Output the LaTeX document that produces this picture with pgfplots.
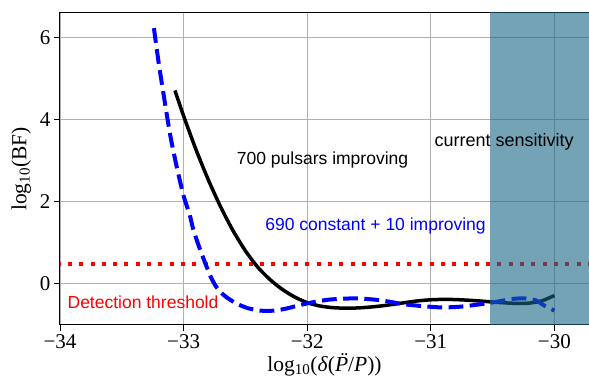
\documentclass[border=0pt]{standalone}
\usepackage{fontspec}
\setmainfont{Liberation Serif}
\newfontfamily\sansf{Liberation Sans}
\usepackage{pgfplots}
\pgfplotsset{compat=1.18}
\definecolor{shade}{RGB}{23,102,133}
\definecolor{gridc}{RGB}{176,176,176}
\begin{document}
\begin{tikzpicture}
\begin{axis}[
  scale only axis, width=529pt, height=312pt,
  xmin=-34, xmax=-29.72, ymin=-1.02, ymax=6.59,
  xtick={-34,-33,-32,-31,-30}, xticklabels={−34,−33,−32,−31,−30},
  ytick={0,2,4,6}, yticklabels={0,2,4,6},
  grid=major, major grid style={gridc, line width=0.8pt},
  tick align=outside, tick pos=left, major tick length=6pt,
  every tick/.style={black, line width=0.8pt},
  axis line style={black, line width=1pt},
  tick label style={font=\fontsize{21}{24}\selectfont},
  label style={font=\fontsize{21.5}{25}\selectfont},
  xlabel={log\textsubscript{10}(\textit{δ}({\itshape\accent"00A8 P}/\textit{P}))},
  ylabel={log\textsubscript{10}(BF)},
  xlabel style={yshift=2pt},
  ylabel style={yshift=2pt},
  clip=true,
]
\addplot[red, line width=4pt, dash pattern=on 4pt off 7.3pt, dash phase=-8pt] coordinates {(-34,0.477) (-29.72,0.477)};
\addplot[black, line width=3.5pt, smooth, tension=0.4] coordinates {
(-33.07,4.70) (-33.0,4.08) (-32.9,3.26) (-32.8,2.52) (-32.7,1.86) (-32.6,1.28) (-32.5,0.79) (-32.4,0.39) (-32.3,0.085) (-32.2,-0.155) (-32.1,-0.34) (-32.0,-0.475) (-31.9,-0.555) (-31.8,-0.595) (-31.7,-0.61) (-31.6,-0.605) (-31.5,-0.585) (-31.4,-0.555) (-31.3,-0.515) (-31.2,-0.47) (-31.1,-0.43) (-31.0,-0.405) (-30.9,-0.395) (-30.8,-0.40) (-30.7,-0.415) (-30.6,-0.435) (-30.5,-0.46) (-30.4,-0.48) (-30.3,-0.495) (-30.2,-0.485) (-30.1,-0.43) (-30.0,-0.30)};
\addplot[blue, line width=4pt, dash pattern=on 14.8pt off 6.4pt, smooth, tension=0.4] coordinates {
(-33.24,6.22) (-33.2,5.34) (-33.13,4.0) (-33.1,3.48) (-33.05,2.76) (-33.0,2.13) (-32.95,1.66) (-32.92,1.29) (-32.87,0.85) (-32.82,0.45) (-32.78,0.15) (-32.74,-0.07) (-32.7,-0.22) (-32.65,-0.35) (-32.57,-0.50) (-32.48,-0.61) (-32.38,-0.67) (-32.27,-0.67) (-32.17,-0.62) (-32.08,-0.55) (-31.98,-0.48) (-31.82,-0.40) (-31.6,-0.37) (-31.4,-0.42) (-31.2,-0.52) (-30.93,-0.59) (-30.75,-0.57) (-30.52,-0.48) (-30.35,-0.39) (-30.25,-0.37) (-30.15,-0.42) (-30.08,-0.55) (-30.0,-0.67)};
\addplot[draw=none, fill=shade, fill opacity=0.6] coordinates {(-30.52,-1.5) (-29.5,-1.5) (-29.5,7) (-30.52,7) (-30.52,-1.5)};
\node[anchor=west, inner sep=0pt, font=\sansf\fontsize{17.5}{20}\selectfont] at (axis cs:-32.57,3.0) {700 pulsars improving};
\node[anchor=west, inner sep=0pt, font=\sansf\fontsize{18}{20}\selectfont] at (axis cs:-30.97,3.45) {current sensitivity};
\node[anchor=west, inner sep=0pt, text=blue, font=\sansf\fontsize{17.5}{20}\selectfont] at (axis cs:-32.34,1.39) {690 constant + 10 improving};
\node[anchor=west, inner sep=0pt, text=red, font=\sansf\fontsize{17.5}{20}\selectfont] at (axis cs:-33.94,-0.46) {Detection threshold};
\end{axis}
\pgfresetboundingbox
\path[use as bounding box] ([xshift=-60pt,yshift=-60pt]current axis.south west) rectangle ([yshift=13pt]current axis.north east);
\end{tikzpicture}
\end{document}
